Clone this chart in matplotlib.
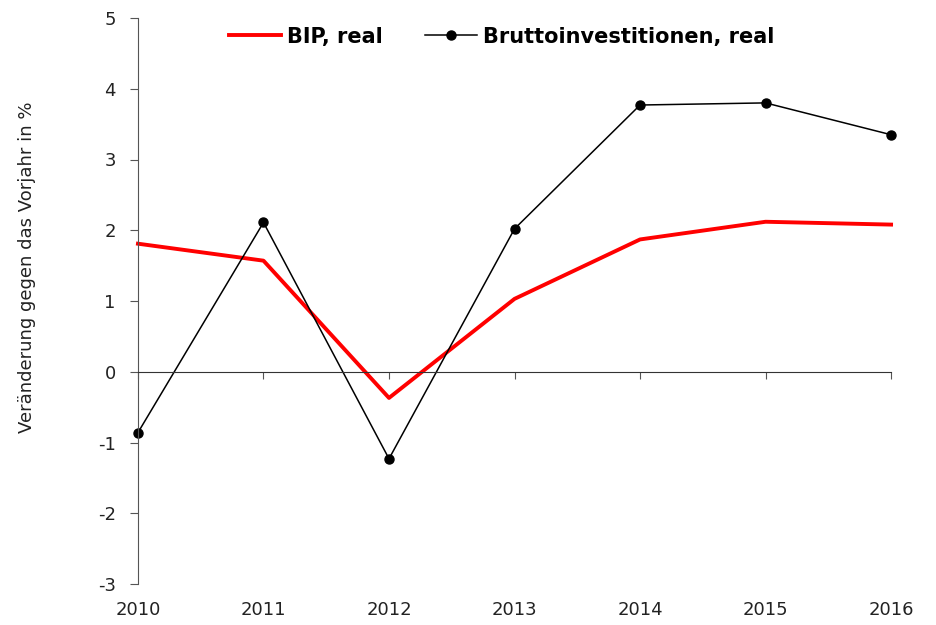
import numpy as np
import matplotlib.pyplot as plt

plt.rcParams['axes.unicode_minus'] = False

years = [2010, 2011, 2012, 2013, 2014, 2015, 2016]
bip_real = [1.81, 1.57, -0.37, 1.03, 1.87, 2.12, 2.08]
brutto_inv = [-0.86, 2.11, -1.23, 2.02, 3.77, 3.80, 3.35]
y_ticks = [-3, -2, -1, 0, 1, 2, 3, 4, 5]

fig = plt.figure(figsize=(9.36, 6.25), dpi=100)
ax = fig.add_axes([0.1474, 0.0656, 0.8046, 0.9056])

ax.plot(years, bip_real, color='#ff0000', lw=2.8, label='BIP, real', clip_on=False)
ax.plot(years, brutto_inv, color='black', lw=1.1, marker='o', ms=6.5,
        label='Bruttoinvestitionen, real', clip_on=False)

ax.set_xlim(2010, 2016)
ax.set_ylim(-3, 5)
ax.set_yticks(y_ticks)
ax.tick_params(axis='y', direction='out', length=6, width=0.8, color='#555555',
               labelsize=13, pad=10, labelcolor='#222222')

# x axis drawn along the zero line, labels at the bottom
ax.spines['bottom'].set_position(('data', 0))
ax.spines['top'].set_visible(False)
ax.spines['right'].set_visible(False)
ax.spines['left'].set_color('#555555')
ax.spines['bottom'].set_color('#333333')
ax.set_xticks(years)
ax.tick_params(axis='x', direction='out', length=5, width=0.8, color='#555555',
               labelbottom=False)

sec = ax.secondary_xaxis(-0.02)
sec.set_xticks(years)
sec.set_xticklabels([str(y) for y in years])
sec.tick_params(length=0, labelsize=13, pad=4, labelcolor='#222222')
sec.spines['bottom'].set_visible(False)

ax.set_ylabel('Veränderung gegen das Vorjahr in %', fontsize=13, color='#222222')
ax.yaxis.set_label_coords(-0.135, 0.56)

leg = ax.legend(loc='upper center', bbox_to_anchor=(0.483, 1.018), ncol=2,
                frameon=False, prop={'weight': 'bold', 'size': 15},
                handlelength=2.5, columnspacing=2.0, handletextpad=0.3)

fig.savefig('out.png', dpi=100)
